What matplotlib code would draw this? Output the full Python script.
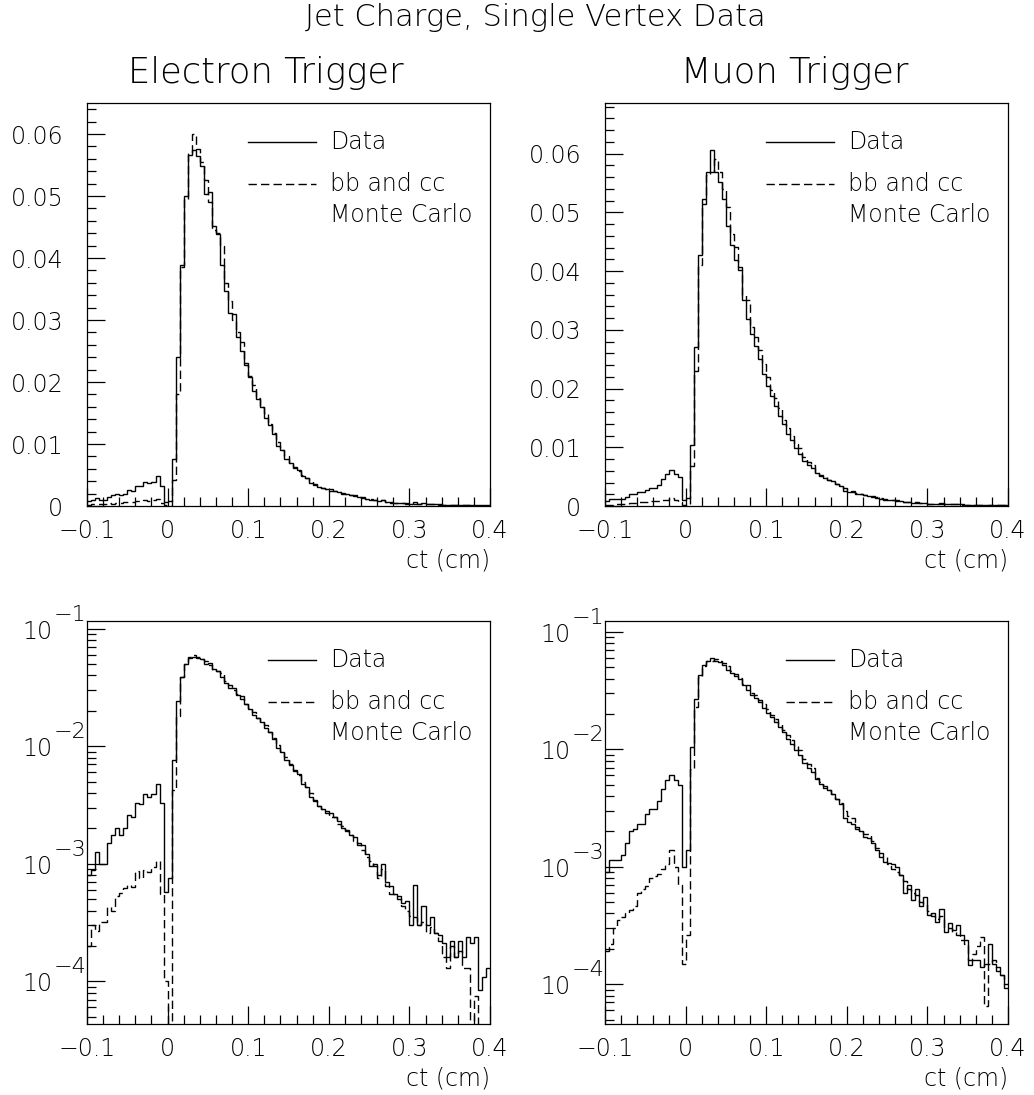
import numpy as np
import matplotlib
matplotlib.use('Agg')
import matplotlib.pyplot as plt
from matplotlib.ticker import MultipleLocator, LogLocator, FuncFormatter, NullFormatter

# bin edges: 100 bins of 0.005 cm from -0.1 to 0.4
edges = np.linspace(-0.1, 0.4, 101)

elec_data = [8.0e-4, 8.9e-4, 1.25e-3, 1.0e-3, 1.0e-3, 1.5e-3, 1.75e-3, 2.0e-3, 1.75e-3, 2.0e-3,
             2.6e-3, 2.5e-3, 3.3e-3, 3.2e-3, 3.9e-3, 3.7e-3, 3.9e-3, 4.8e-3, 3.3e-3, 5.7e-4,
             7.5e-4, 7.6e-3, 0.0241, 0.0389, 0.0500, 0.0566, 0.0574, 0.0565, 0.0548, 0.0504,
             0.0506, 0.0452, 0.0439, 0.0389, 0.0347, 0.0312, 0.0310, 0.0272, 0.0250, 0.0228,
             0.0208, 0.0185, 0.0172, 0.0160, 0.0142, 0.0131, 0.0116, 0.0096, 0.0090, 0.0076,
             0.0069, 0.0061, 0.0058, 0.0048, 0.0045, 0.0037, 0.0034, 3.1e-3, 2.9e-3, 2.8e-3,
             2.7e-3, 2.5e-3, 2.3e-3, 2.0e-3, 1.95e-3, 1.75e-3, 1.7e-3, 1.45e-3, 1.45e-3, 1.2e-3,
             9.5e-4, 1.0e-3, 8.0e-4, 1.0e-3, 7.0e-4, 6.5e-4, 5.5e-4, 5.3e-4, 4.6e-4, 4.8e-4,
             3.0e-4, 6.6e-4, 3.0e-4, 4.4e-4, 3.0e-4, 3.5e-4, 2.6e-4, 2.5e-4, 2.1e-4, 1.6e-4,
             2.2e-4, 1.6e-4, 2.2e-4, 1.6e-4, 2.4e-4, 2.1e-4, 2.4e-4, 8.5e-5, 1.1e-4, 1.3e-4]

elec_mc = [2.0e-4, 3.0e-4, 2.7e-4, 3.2e-4, 3.2e-4, 4.3e-4, 4.0e-4, 5.3e-4, 5.6e-4, 6.2e-4,
           6.6e-4, 6.3e-4, 8.7e-4, 7.6e-4, 8.9e-4, 8.5e-4, 9.4e-4, 1.05e-3, 5.5e-4, 1.0e-4,
           0.0, 4.2e-3, 0.0180, 0.0385, 0.0495, 0.0570, 0.0600, 0.0575, 0.0555, 0.0525,
           0.0490, 0.0445, 0.0440, 0.0420, 0.0360, 0.0330, 0.0300, 0.0280, 0.0265, 0.0230,
           0.0210, 0.0195, 0.0175, 0.0160, 0.0150, 0.0133, 0.0118, 0.0103, 0.0091, 0.0081,
           0.0070, 0.0063, 0.0057, 0.0050, 0.0045, 0.0040, 0.0035, 3.1e-3, 2.9e-3, 2.7e-3,
           2.5e-3, 2.5e-3, 2.2e-3, 2.1e-3, 1.9e-3, 1.75e-3, 1.55e-3, 1.5e-3, 1.3e-3, 1.15e-3,
           1.05e-3, 9.5e-4, 7.5e-4, 9.0e-4, 6.5e-4, 5.5e-4, 5.5e-4, 5.0e-4, 4.4e-4, 4.0e-4,
           3.6e-4, 3.5e-4, 3.0e-4, 3.2e-4, 2.6e-4, 2.9e-4, 2.6e-4, 2.2e-4, 1.6e-4, 1.3e-4,
           2.0e-4, 1.6e-4, 1.8e-4, 1.3e-4, 1.3e-4, 0.0, 7.5e-5, 0.0, 0.0, 0.0]

muon_data = [9.0e-4, 1.15e-3, 1.15e-3, 1.15e-3, 1.25e-3, 1.6e-3, 2.0e-3, 2.1e-3, 2.3e-3, 2.3e-3,
             2.8e-3, 3.1e-3, 3.1e-3, 3.6e-3, 4.6e-3, 5.5e-3, 6.1e-3, 5.5e-3, 5.0e-3, 1.0e-3,
             1.4e-3, 0.0104, 0.0271, 0.0427, 0.0523, 0.0568, 0.0606, 0.0568, 0.0551, 0.0523,
             0.0476, 0.0444, 0.0418, 0.0401, 0.0350, 0.0319, 0.0293, 0.0273, 0.0251, 0.0225,
             0.0205, 0.0188, 0.0171, 0.0154, 0.0140, 0.0123, 0.0112, 0.0098, 0.0089, 0.0077,
             0.0070, 0.0064, 0.0056, 0.0051, 0.0047, 0.0045, 0.0042, 0.0038, 0.0034, 0.0026,
             0.0024, 0.0023, 0.0021, 0.0020, 0.0018, 1.75e-3, 1.6e-3, 1.4e-3, 1.2e-3, 1.1e-3,
             1.07e-3, 1.05e-3, 1.0e-3, 8.5e-4, 6.0e-4, 7.0e-4, 5.2e-4, 6.5e-4, 4.6e-4, 5.5e-4,
             3.9e-4, 4.0e-4, 3.4e-4, 4.4e-4, 2.8e-4, 3.3e-4, 2.9e-4, 3.2e-4, 2.6e-4, 2.4e-4,
             1.45e-4, 1.6e-4, 1.6e-4, 1.4e-4, 1.5e-4, 2.2e-4, 1.5e-4, 1.4e-4, 1.2e-4, 9.3e-5]

muon_mc = [1.9e-4, 2.2e-4, 3.0e-4, 3.5e-4, 3.7e-4, 4.0e-4, 4.3e-4, 4.6e-4, 6.0e-4, 6.5e-4,
           6.8e-4, 8.0e-4, 8.3e-4, 8.6e-4, 9.5e-4, 1.05e-3, 1.4e-3, 1.0e-3, 7.0e-4, 1.5e-4,
           2.6e-4, 6.8e-3, 0.0230, 0.0410, 0.0514, 0.0563, 0.0568, 0.0590, 0.0568, 0.0540,
           0.0509, 0.0463, 0.0441, 0.0407, 0.0359, 0.0350, 0.0305, 0.0288, 0.0265, 0.0242,
           0.0220, 0.0197, 0.0183, 0.0166, 0.0146, 0.0132, 0.0120, 0.0106, 0.0098, 0.0083,
           0.0075, 0.0069, 0.0057, 0.0053, 0.0049, 4.5e-3, 4.2e-3, 3.8e-3, 3.5e-3, 3.0e-3,
           2.7e-3, 2.6e-3, 2.2e-3, 2.0e-3, 1.9e-3, 1.9e-3, 1.65e-3, 1.45e-3, 1.3e-3, 1.2e-3,
           1.05e-3, 9.5e-4, 9.0e-4, 8.5e-4, 7.5e-4, 6.5e-4, 6.0e-4, 5.8e-4, 5.0e-4, 4.8e-4,
           4.2e-4, 3.8e-4, 3.6e-4, 3.8e-4, 3.0e-4, 3.0e-4, 2.8e-4, 2.6e-4, 2.4e-4, 2.2e-4,
           1.6e-4, 1.8e-4, 2.1e-4, 2.5e-4, 6.5e-5, 1.5e-4, 1.6e-4, 1.3e-4, 1.2e-4, 1.0e-4]

titles = ['Electron Trigger', 'Muon Trigger']
lin_ymax = [0.065, 0.0686]
log_ylim = [(4.34e-5, 0.116), (4.58e-5, 0.124)]
decades = [-1, -2, -3, -4]

plt.rcParams['font.family'] = ['DejaVu Sans']
plt.rcParams['font.weight'] = 'light'
plt.rcParams['axes.unicode_minus'] = True

fig = plt.figure(figsize=(10.34, 10.95), dpi=100)

W, H = 1034, 1095
lefts = [87, 605]
tops = [103, 621]
size = 403
px = 0.72  # points per pixel at 100 dpi


def xfmt(v, pos):
    if abs(v) < 1e-9:
        return '0'
    return ('%.1f' % v).replace('-', '\u2212')


def yfmt(v, pos):
    if abs(v) < 1e-9:
        return '0'
    return '%.2f' % v


for col, (data, mc) in enumerate([(elec_data, elec_mc), (muon_data, muon_mc)]):
    for row in range(2):
        ax = fig.add_axes([lefts[col] / W, 1 - (tops[row] + size) / H, size / W, size / H])
        ax.stairs(data, edges, baseline=None, color='k', lw=1.0)
        ax.stairs(mc, edges, baseline=None, color='k', lw=1.0, linestyle=(0, (6, 3)))
        ax.set_xlim(-0.1, 0.4)
        if row == 0:
            ax.set_ylim(0, lin_ymax[col])
            ax.yaxis.set_major_locator(MultipleLocator(0.01))
            ax.yaxis.set_minor_locator(MultipleLocator(0.002))
            ax.yaxis.set_major_formatter(FuncFormatter(yfmt))
            ax.tick_params(axis='y', which='major', pad=17)
            lx0 = 0.40
        else:
            ax.set_yscale('log')
            ax.set_ylim(*log_ylim[col])
            ax.yaxis.set_major_locator(LogLocator(base=10))
            ax.yaxis.set_minor_locator(LogLocator(base=10, subs=np.arange(2, 10)))
            ax.yaxis.set_major_formatter(NullFormatter())
            ax.yaxis.set_minor_formatter(NullFormatter())
            # PAW style "10" with a full size raised exponent
            for d in decades:
                ax.annotate('10', xy=(0, 10.0 ** d), xycoords=('axes fraction', 'data'),
                            xytext=(-34 * px, -3 * px), textcoords='offset points',
                            ha='right', va='center', fontsize=17, annotation_clip=False)
                ax.annotate('\u2212%d' % (-d), xy=(0, 10.0 ** d), xycoords=('axes fraction', 'data'),
                            xytext=(-33 * px, 14 * px), textcoords='offset points',
                            ha='left', va='center', fontsize=16, annotation_clip=False)
            lx0 = 0.45
        ax.xaxis.set_major_locator(MultipleLocator(0.1))
        ax.xaxis.set_minor_locator(MultipleLocator(0.02))
        ax.xaxis.set_major_formatter(FuncFormatter(xfmt))
        ax.tick_params(axis='both', which='both', direction='in', top=False, right=False,
                       labelsize=17, width=0.9)
        ax.tick_params(axis='both', which='major', length=13)
        ax.tick_params(axis='both', which='minor', length=6.5)
        ax.tick_params(axis='x', which='major', pad=9)
        for sp in ax.spines.values():
            sp.set_linewidth(0.9)

        # legend drawn by hand, like the PAW key
        ax.plot([lx0, 0.568], [0.902, 0.902], transform=ax.transAxes, color='k', lw=1.0)
        ax.plot([lx0, 0.568], [0.800, 0.800], transform=ax.transAxes, color='k', lw=1.0,
                linestyle=(0, (6, 3)))
        ax.text(0.603, 0.902, 'Data', transform=ax.transAxes, fontsize=17, va='center')
        ax.text(0.603, 0.800, 'bb and cc', transform=ax.transAxes, fontsize=17, va='center')
        ax.text(0.603, 0.722, 'Monte Carlo', transform=ax.transAxes, fontsize=17, va='center')

        ax.text(1.0, -0.135, 'ct (cm)', transform=ax.transAxes, fontsize=17,
                ha='right', va='center')

fig.text(535 / W, 1 - 18 / H, 'Jet Charge, Single Vertex Data', fontsize=22,
         ha='center', va='center')
fig.text(266 / W, 1 - 73 / H, titles[0], fontsize=25.5, ha='center', va='center')
fig.text(795 / W, 1 - 73 / H, titles[1], fontsize=25.5, ha='center', va='center')

fig.savefig('out.png', dpi=100)
